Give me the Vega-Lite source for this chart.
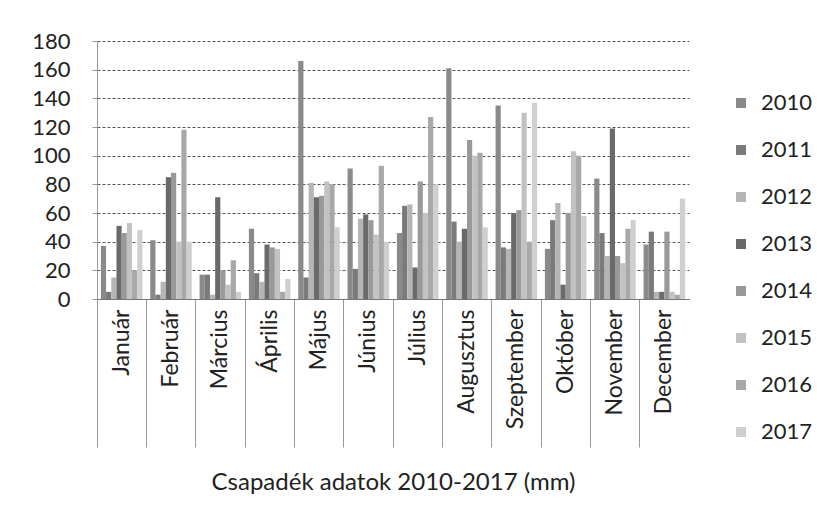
{
  "$schema": "https://vega.github.io/schema/vega-lite/v6.json",
  "autosize": "none",
  "width": 592,
  "height": 258,
  "padding": {"left": 97, "top": 41, "right": 128, "bottom": 209},
  "background": "white",
  "datasets": {
    "rain": [
      {"h": "Január", "ev": "2010", "mm": 37}, {"h": "Január", "ev": "2011", "mm": 5}, {"h": "Január", "ev": "2012", "mm": 15}, {"h": "Január", "ev": "2013", "mm": 51}, {"h": "Január", "ev": "2014", "mm": 46}, {"h": "Január", "ev": "2015", "mm": 53}, {"h": "Január", "ev": "2016", "mm": 20}, {"h": "Január", "ev": "2017", "mm": 48},
      {"h": "Február", "ev": "2010", "mm": 41}, {"h": "Február", "ev": "2011", "mm": 3}, {"h": "Február", "ev": "2012", "mm": 12}, {"h": "Február", "ev": "2013", "mm": 85}, {"h": "Február", "ev": "2014", "mm": 88}, {"h": "Február", "ev": "2015", "mm": 40}, {"h": "Február", "ev": "2016", "mm": 118}, {"h": "Február", "ev": "2017", "mm": 40},
      {"h": "Március", "ev": "2010", "mm": 17}, {"h": "Március", "ev": "2011", "mm": 17}, {"h": "Március", "ev": "2012", "mm": 3}, {"h": "Március", "ev": "2013", "mm": 71}, {"h": "Március", "ev": "2014", "mm": 20}, {"h": "Március", "ev": "2015", "mm": 10}, {"h": "Március", "ev": "2016", "mm": 27}, {"h": "Március", "ev": "2017", "mm": 5},
      {"h": "Április", "ev": "2010", "mm": 49}, {"h": "Április", "ev": "2011", "mm": 18}, {"h": "Április", "ev": "2012", "mm": 12}, {"h": "Április", "ev": "2013", "mm": 38}, {"h": "Április", "ev": "2014", "mm": 36}, {"h": "Április", "ev": "2015", "mm": 35}, {"h": "Április", "ev": "2016", "mm": 5}, {"h": "Április", "ev": "2017", "mm": 14},
      {"h": "Május", "ev": "2010", "mm": 166}, {"h": "Május", "ev": "2011", "mm": 15}, {"h": "Május", "ev": "2012", "mm": 81}, {"h": "Május", "ev": "2013", "mm": 71}, {"h": "Május", "ev": "2014", "mm": 72}, {"h": "Május", "ev": "2015", "mm": 82}, {"h": "Május", "ev": "2016", "mm": 80}, {"h": "Május", "ev": "2017", "mm": 50},
      {"h": "Június", "ev": "2010", "mm": 91}, {"h": "Június", "ev": "2011", "mm": 21}, {"h": "Június", "ev": "2012", "mm": 56}, {"h": "Június", "ev": "2013", "mm": 59}, {"h": "Június", "ev": "2014", "mm": 55}, {"h": "Június", "ev": "2015", "mm": 45}, {"h": "Június", "ev": "2016", "mm": 93}, {"h": "Június", "ev": "2017", "mm": 40},
      {"h": "Július", "ev": "2010", "mm": 46}, {"h": "Július", "ev": "2011", "mm": 65}, {"h": "Július", "ev": "2012", "mm": 66}, {"h": "Július", "ev": "2013", "mm": 22}, {"h": "Július", "ev": "2014", "mm": 82}, {"h": "Július", "ev": "2015", "mm": 60}, {"h": "Július", "ev": "2016", "mm": 127}, {"h": "Július", "ev": "2017", "mm": 80},
      {"h": "Augusztus", "ev": "2010", "mm": 161}, {"h": "Augusztus", "ev": "2011", "mm": 54}, {"h": "Augusztus", "ev": "2012", "mm": 40}, {"h": "Augusztus", "ev": "2013", "mm": 49}, {"h": "Augusztus", "ev": "2014", "mm": 111}, {"h": "Augusztus", "ev": "2015", "mm": 100}, {"h": "Augusztus", "ev": "2016", "mm": 102}, {"h": "Augusztus", "ev": "2017", "mm": 50},
      {"h": "Szeptember", "ev": "2010", "mm": 135}, {"h": "Szeptember", "ev": "2011", "mm": 36}, {"h": "Szeptember", "ev": "2012", "mm": 35}, {"h": "Szeptember", "ev": "2013", "mm": 60}, {"h": "Szeptember", "ev": "2014", "mm": 62}, {"h": "Szeptember", "ev": "2015", "mm": 130}, {"h": "Szeptember", "ev": "2016", "mm": 40}, {"h": "Szeptember", "ev": "2017", "mm": 137},
      {"h": "Október", "ev": "2010", "mm": 35}, {"h": "Október", "ev": "2011", "mm": 55}, {"h": "Október", "ev": "2012", "mm": 67}, {"h": "Október", "ev": "2013", "mm": 10}, {"h": "Október", "ev": "2014", "mm": 60}, {"h": "Október", "ev": "2015", "mm": 103}, {"h": "Október", "ev": "2016", "mm": 100}, {"h": "Október", "ev": "2017", "mm": 58},
      {"h": "November", "ev": "2010", "mm": 84}, {"h": "November", "ev": "2011", "mm": 46}, {"h": "November", "ev": "2012", "mm": 30}, {"h": "November", "ev": "2013", "mm": 119}, {"h": "November", "ev": "2014", "mm": 30}, {"h": "November", "ev": "2015", "mm": 25}, {"h": "November", "ev": "2016", "mm": 49}, {"h": "November", "ev": "2017", "mm": 55},
      {"h": "December", "ev": "2010", "mm": 38}, {"h": "December", "ev": "2011", "mm": 47}, {"h": "December", "ev": "2012", "mm": 5}, {"h": "December", "ev": "2013", "mm": 5}, {"h": "December", "ev": "2014", "mm": 47}, {"h": "December", "ev": "2015", "mm": 5}, {"h": "December", "ev": "2016", "mm": 3}, {"h": "December", "ev": "2017", "mm": 70}
    ]
  },
  "data": {"name": "rain"},
  "mark": {"type": "bar"},
  "encoding": {
    "x": {
      "field": "h",
      "type": "nominal",
      "sort": ["Január", "Február", "Március", "Április", "Május", "Június", "Július", "Augusztus", "Szeptember", "Október", "November", "December"],
      "scale": {"paddingInner": 0, "paddingOuter": 0},
      "axis": {
        "title": "Csapadék adatok 2010-2017 (mm)",
        "titleFont": "Lato",
        "titleFontSize": 24,
        "titleFontWeight": "normal",
        "titleColor": "#222",
        "titlePadding": 23,
        "labelAngle": -90,
        "labelAlign": "right",
        "labelBaseline": "middle",
        "labelFont": "Lato",
        "labelFontSize": 23,
        "labelColor": "#222",
        "labelPadding": -138,
        "bandPosition": 0,
        "tickSize": 148,
        "tickColor": "#999",
        "domainColor": "#777",
        "grid": false
      }
    },
    "xOffset": {
      "field": "ev",
      "type": "nominal",
      "scale": {"paddingInner": 0, "paddingOuter": 0.75}
    },
    "y": {
      "field": "mm",
      "type": "quantitative",
      "scale": {"domain": [0, 180]},
      "axis": {
        "title": null,
        "values": [0, 20, 40, 60, 80, 100, 120, 140, 160, 180],
        "labelFont": "Lato",
        "labelFontSize": 22,
        "labelColor": "#222",
        "labelPadding": 22,
        "tickSize": 5,
        "tickColor": "#999",
        "domainColor": "#999",
        "grid": true,
        "gridColor": "#555",
        "gridDash": [3, 2],
        "gridWidth": 1
      }
    },
    "color": {
      "field": "ev",
      "type": "nominal",
      "scale": {
        "domain": ["2010", "2011", "2012", "2013", "2014", "2015", "2016", "2017"],
        "range": ["#8a8a8a", "#7a7a7a", "#b5b5b5", "#6a6a6a", "#999999", "#c2c2c2", "#a8a8a8", "#cfcfcf"]
      },
      "legend": {
        "title": null,
        "orient": "none",
        "legendX": 633,
        "legendY": 51,
        "symbolType": "square",
        "symbolSize": 100,
        "symbolStrokeWidth": 0,
        "labelFont": "Lato",
        "labelFontSize": 22,
        "labelColor": "#222",
        "labelOffset": 9,
        "rowPadding": 25
      }
    }
  },
  "config": {"view": {"stroke": null}}
}
